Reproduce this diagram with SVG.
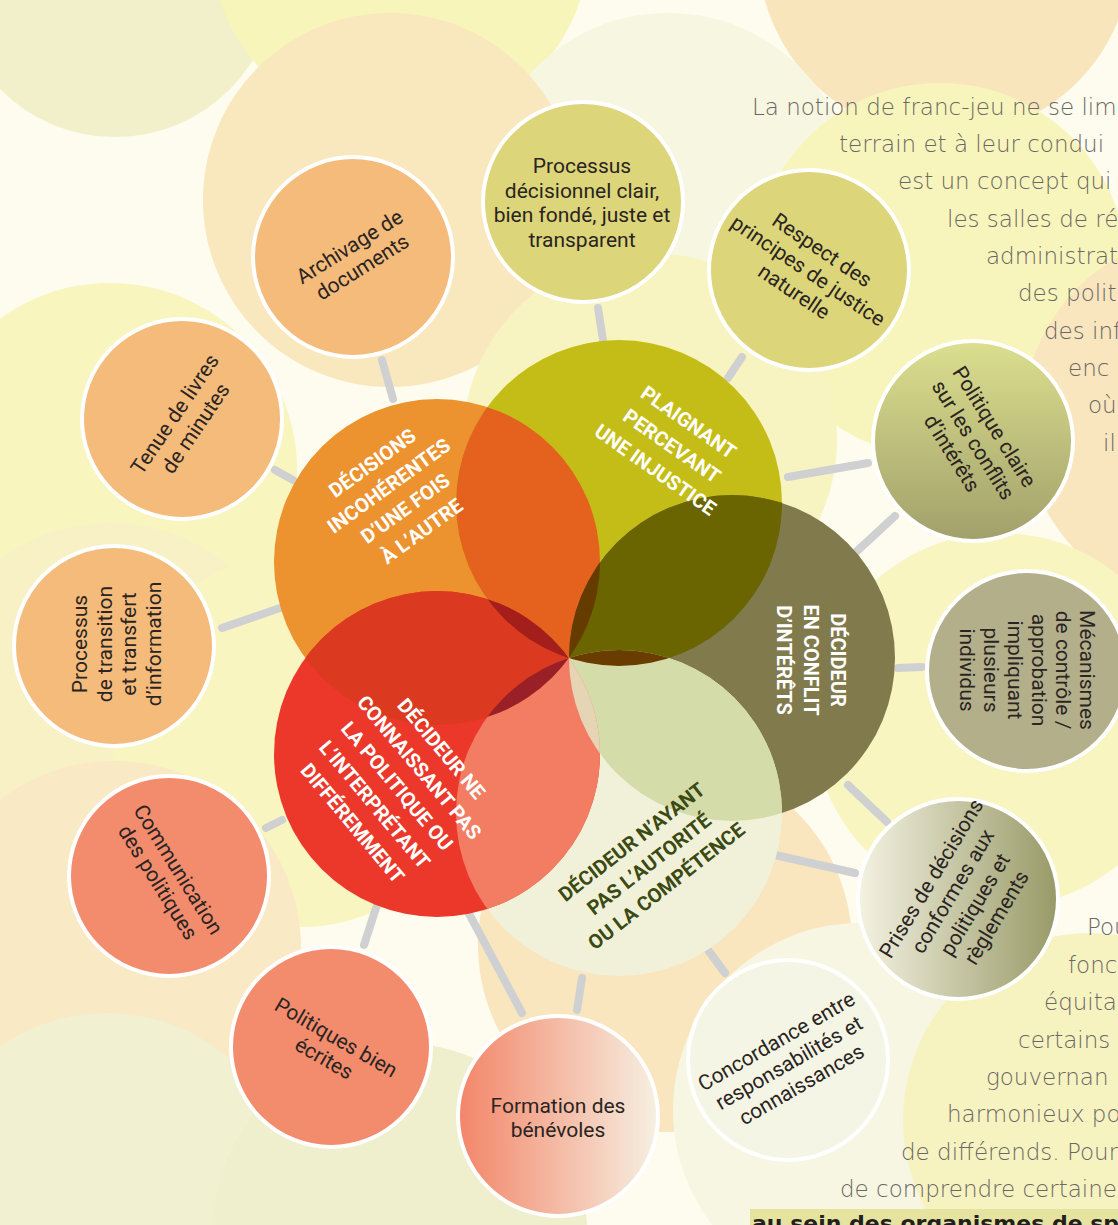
<svg xmlns="http://www.w3.org/2000/svg" width="1118" height="1225" viewBox="0 0 1118 1225">
  <style>
    .lbl{font-family:Roboto,"Liberation Sans",sans-serif;font-size:21px;fill:#2a2522;text-anchor:middle}
    .hd{font-family:Roboto,"Liberation Sans",sans-serif;font-weight:700;font-size:20px;fill:#ffffff;text-anchor:middle}
    .hd.dark{fill:#3b4a12}
    .sat{stroke:#ffffff;stroke-width:4}
    .conn line{stroke:#cfd0d2;stroke-width:8;stroke-linecap:round}
    .para{font-family:"DejaVu Sans","Liberation Sans",sans-serif;font-weight:200;font-size:23px;fill:#6a6764}
    .bold{font-family:"DejaVu Sans","Liberation Sans",sans-serif;font-weight:700;font-size:22px;fill:#231f20}
  </style>
  <defs>
    <clipPath id="cO"><circle cx="437" cy="562" r="163"/></clipPath>
    <clipPath id="cP"><circle cx="619" cy="503" r="163"/></clipPath>
    <clipPath id="cC"><circle cx="732" cy="658" r="163"/></clipPath>
    <clipPath id="cN"><circle cx="619" cy="813" r="163"/></clipPath>
    <clipPath id="cR"><circle cx="437" cy="754" r="163"/></clipPath>
    <linearGradient id="gPol" x1="0" y1="0" x2="0" y2="1">
      <stop offset="0" stop-color="#dbdf8e"/>
      <stop offset="1" stop-color="#a2a06b"/>
    </linearGradient>
    <linearGradient id="gPri" x1="0" y1="0" x2="1" y2="0">
      <stop offset="0" stop-color="#f4f2e2"/>
      <stop offset="1" stop-color="#979a67"/>
    </linearGradient>
    <linearGradient id="gFor" x1="0" y1="0" x2="1" y2="0">
      <stop offset="0" stop-color="#f38568"/>
      <stop offset="1" stop-color="#f6f0e2"/>
    </linearGradient>
  </defs>

  <!-- backdrop of large pale discs -->
  <g id="backdrop">
    <rect width="1118" height="1225" fill="#fdfcee"/>
    <g opacity="0.85">
      <circle cx="115" cy="-25" r="162" fill="#efefc6"/>
      <circle cx="400" cy="-60" r="190" fill="#f8f4b2"/>
      <circle cx="945" cy="-50" r="187" fill="#f8e2b4"/>
      <circle cx="668" cy="200" r="187" fill="#f7f6de"/>
      <circle cx="390" cy="200" r="187" fill="#f9e4b6"/>
      <circle cx="940" cy="270" r="187" fill="#f8f4b4"/>
      <circle cx="1210" cy="420" r="187" fill="#f9e2b6"/>
      <circle cx="650" cy="440" r="187" fill="#f8f3ba"/>
      <circle cx="110" cy="470" r="187" fill="#f8f4b6"/>
      <circle cx="110" cy="710" r="187" fill="#f9f0c0"/>
      <circle cx="300" cy="740" r="187" fill="#f8f4b8"/>
      <circle cx="1000" cy="720" r="187" fill="#f8f4b8"/>
      <circle cx="114" cy="948" r="187" fill="#f9e6bf"/>
      <circle cx="665" cy="945" r="187" fill="#f9e2b6"/>
      <circle cx="107" cy="1200" r="187" fill="#efefcc"/>
      <circle cx="400" cy="1230" r="187" fill="#eeedc8"/>
      <circle cx="860" cy="1110" r="187" fill="#f6f5e0"/>
      <circle cx="1090" cy="1120" r="187" fill="#f6f2ba"/>
    </g>
  </g>

  <!-- side paragraph -->
  <g id="paragraph">
    <text class="para" x="752" y="115">La notion de franc-jeu ne se lim</text>
    <text class="para" x="839" y="152">terrain et à leur condui</text>
    <text class="para" x="898" y="189">est un concept qui</text>
    <text class="para" x="947" y="227">les salles de réu</text>
    <text class="para" x="986" y="264">administrate</text>
    <text class="para" x="1018" y="301">des politic</text>
    <text class="para" x="1044" y="339">des inf</text>
    <text class="para" x="1068" y="376">enc</text>
    <text class="para" x="1088" y="413">où</text>
    <text class="para" x="1103" y="451">il</text>
    <text class="para" x="1087" y="935">Pou</text>
    <text class="para" x="1068" y="973">fonc</text>
    <text class="para" x="1044" y="1010">équita</text>
    <text class="para" x="1018" y="1048">certains</text>
    <text class="para" x="986" y="1085">gouvernan</text>
    <text class="para" x="947" y="1122">harmonieux po</text>
    <text class="para" x="901" y="1160">de différends. Pour</text>
    <text class="para" x="840" y="1197">de comprendre certaine</text>
    <rect x="750" y="1209" width="368" height="16" fill="#e6e29f"/>
    <text class="bold" x="752" y="1231">au sein des organismes de sp</text>
  </g>

  <!-- connectors -->
  <g id="connectors" class="conn">
    <line x1="382" y1="360" x2="393" y2="399"/>
    <line x1="598" y1="308" x2="603" y2="340"/>
    <line x1="728" y1="378" x2="742" y2="357"/>
    <line x1="788" y1="477" x2="868" y2="463"/>
    <line x1="856" y1="552" x2="895" y2="516"/>
    <line x1="898" y1="668" x2="922" y2="667"/>
    <line x1="848" y1="785" x2="887" y2="822"/>
    <line x1="775" y1="855" x2="855" y2="873"/>
    <line x1="708" y1="950" x2="725" y2="973"/>
    <line x1="582" y1="978" x2="577" y2="1010"/>
    <line x1="466" y1="908" x2="522" y2="1013"/>
    <line x1="377" y1="905" x2="364" y2="945"/>
    <line x1="266" y1="828" x2="282" y2="820"/>
    <line x1="222" y1="628" x2="280" y2="608"/>
    <line x1="275" y1="470" x2="293" y2="480"/>
  </g>

  <!-- five overlapping core circles -->
  <g id="core">
    <circle cx="437" cy="562" r="163" fill="#ec922e"/>
    <circle cx="619" cy="503" r="163" fill="#c5bd17"/>
    <circle cx="732" cy="658" r="163" fill="#807a4d"/>
    <circle cx="619" cy="813" r="163" fill="#f1f1da"/>
    <circle cx="437" cy="754" r="163" fill="#ec372b"/>
    <!-- pairwise overlaps -->
    <circle cx="619" cy="503" r="163" fill="#e4621e" clip-path="url(#cO)"/>
    <circle cx="732" cy="658" r="163" fill="#6a6500" clip-path="url(#cP)"/>
    <circle cx="619" cy="813" r="163" fill="#d4dcaa" clip-path="url(#cC)"/>
    <circle cx="437" cy="754" r="163" fill="#f27d63" clip-path="url(#cN)"/>
    <circle cx="437" cy="562" r="163" fill="#dc3a20" clip-path="url(#cR)"/>
    <!-- triple overlaps near the centre -->
    <g clip-path="url(#cO)"><circle cx="732" cy="658" r="163" fill="#663b00" clip-path="url(#cP)"/></g>
    <g clip-path="url(#cP)"><circle cx="619" cy="813" r="163" fill="#693c00" clip-path="url(#cC)"/></g>
    <g clip-path="url(#cC)"><circle cx="437" cy="754" r="163" fill="#e5d5b5" clip-path="url(#cN)"/></g>
    <g clip-path="url(#cN)"><circle cx="437" cy="562" r="163" fill="#9a2027" clip-path="url(#cR)"/></g>
    <g clip-path="url(#cR)"><circle cx="619" cy="503" r="163" fill="#a41e1c" clip-path="url(#cO)"/></g>
  </g>

  <g id="core-decisions" transform="translate(397,497) rotate(-36)">
    <text class="hd" y="-35">DÉCISIONS</text>
    <text class="hd" y="-7">INCOHÉRENTES</text>
    <text class="hd" y="21">D’UNE FOIS</text>
    <text class="hd" y="49">À L’AUTRE</text>
  </g>
  <g id="core-plaignant" transform="translate(672,446) rotate(35)">
    <text class="hd" y="-22">PLAIGNANT</text>
    <text class="hd" y="7">PERCEVANT</text>
    <text class="hd" y="36">UNE INJUSTICE</text>
  </g>
  <g id="core-conflit" transform="translate(811,660) rotate(90)">
    <text class="hd" y="-20">DÉCIDEUR</text>
    <text class="hd" y="7">EN CONFLIT</text>
    <text class="hd" y="34">D’INTÉRÊTS</text>
  </g>
  <g id="core-autorite" transform="translate(649,864) rotate(-38)">
    <text class="hd dark" y="-21">DÉCIDEUR N’AYANT</text>
    <text class="hd dark" y="7">PAS L’AUTORITÉ</text>
    <text class="hd dark" y="35">OU LA COMPÉTENCE</text>
  </g>
  <g id="core-politique" transform="translate(397,786) rotate(50)">
    <text class="hd" y="-51">DÉCIDEUR NE</text>
    <text class="hd" y="-22">CONNAISSANT PAS</text>
    <text class="hd" y="7">LA POLITIQUE OU</text>
    <text class="hd" y="36">L’INTERPRÉTANT</text>
    <text class="hd" y="65">DIFFÉREMMENT</text>
  </g>

  <!-- satellite nodes -->
  <g id="n-archivage">
    <circle class="sat" cx="353" cy="257" r="100" fill="#f4bb7b"/>
    <g transform="translate(356,257) rotate(-32)">
      <text class="lbl" y="-5">Archivage de</text>
      <text class="lbl" y="19">documents</text>
    </g>
  </g>
  <g id="n-processus-decisionnel">
    <circle class="sat" cx="583" cy="202" r="100" fill="#dcd579"/>
    <text class="lbl" x="582" y="173">Processus</text>
    <text class="lbl" x="582" y="197.5">décisionnel clair,</text>
    <text class="lbl" x="582" y="222">bien fondé, juste et</text>
    <text class="lbl" x="582" y="246.5">transparent</text>
  </g>
  <g id="n-respect">
    <circle class="sat" cx="809" cy="270" r="100" fill="#dcd579"/>
    <g transform="translate(808,271) rotate(34)">
      <text class="lbl" y="-18">Respect des</text>
      <text class="lbl" y="7">principes de justice</text>
      <text class="lbl" y="32">naturelle</text>
    </g>
  </g>
  <g id="n-politique-claire">
    <circle class="sat" cx="973" cy="441" r="100" fill="url(#gPol)"/>
    <g transform="translate(973,440) rotate(58)">
      <text class="lbl" y="-18">Politique claire</text>
      <text class="lbl" y="7">sur les conflits</text>
      <text class="lbl" y="32">d’intérêts</text>
    </g>
  </g>
  <g id="n-mecanismes">
    <circle class="sat" cx="1027" cy="671" r="100" fill="#b3af8b"/>
    <g transform="translate(1027,670) rotate(90)">
      <text class="lbl" y="-53">Mécanismes</text>
      <text class="lbl" y="-29">de contrôle /</text>
      <text class="lbl" y="-5">approbation</text>
      <text class="lbl" y="19">impliquant</text>
      <text class="lbl" y="43">plusieurs</text>
      <text class="lbl" y="67">individus</text>
    </g>
  </g>
  <g id="n-prises">
    <circle class="sat" cx="958" cy="899" r="100" fill="url(#gPri)"/>
    <g transform="translate(964,898) rotate(-59)">
      <text class="lbl" y="-31">Prises de décisions</text>
      <text class="lbl" y="-6">conformes aux</text>
      <text class="lbl" y="20">politiques et</text>
      <text class="lbl" y="45">règlements</text>
    </g>
  </g>
  <g id="n-concordance">
    <circle class="sat" cx="788" cy="1060" r="100" fill="#f5f5e5"/>
    <g transform="translate(789,1063) rotate(-30)">
      <text class="lbl" y="-18">Concordance entre</text>
      <text class="lbl" y="7">responsabilités et</text>
      <text class="lbl" y="32">connaissances</text>
    </g>
  </g>
  <g id="n-formation">
    <circle class="sat" cx="558" cy="1116" r="100" fill="url(#gFor)"/>
    <text class="lbl" x="558" y="1113">Formation des</text>
    <text class="lbl" x="558" y="1137">bénévoles</text>
  </g>
  <g id="n-politiques-ecrites">
    <circle class="sat" cx="331" cy="1047" r="100" fill="#f38b6d"/>
    <g transform="translate(330,1048) rotate(30)">
      <text class="lbl" y="-5">Politiques bien</text>
      <text class="lbl" y="19">écrites</text>
    </g>
  </g>
  <g id="n-communication">
    <circle class="sat" cx="169" cy="876" r="100" fill="#f38b6d"/>
    <g transform="translate(168,876) rotate(58)">
      <text class="lbl" y="-5">Communication</text>
      <text class="lbl" y="19">des politiques</text>
    </g>
  </g>
  <g id="n-transition">
    <circle class="sat" cx="114" cy="646" r="100" fill="#f4bb7b"/>
    <g transform="translate(117,644) rotate(-90)">
      <text class="lbl" y="-30">Processus</text>
      <text class="lbl" y="-5">de transition</text>
      <text class="lbl" y="19">et transfert</text>
      <text class="lbl" y="44">d’information</text>
    </g>
  </g>
  <g id="n-tenue">
    <circle class="sat" cx="182" cy="419" r="100" fill="#f4bb7b"/>
    <g transform="translate(185,421) rotate(-56)">
      <text class="lbl" y="-5">Tenue de livres</text>
      <text class="lbl" y="20">de minutes</text>
    </g>
  </g>
</svg>
